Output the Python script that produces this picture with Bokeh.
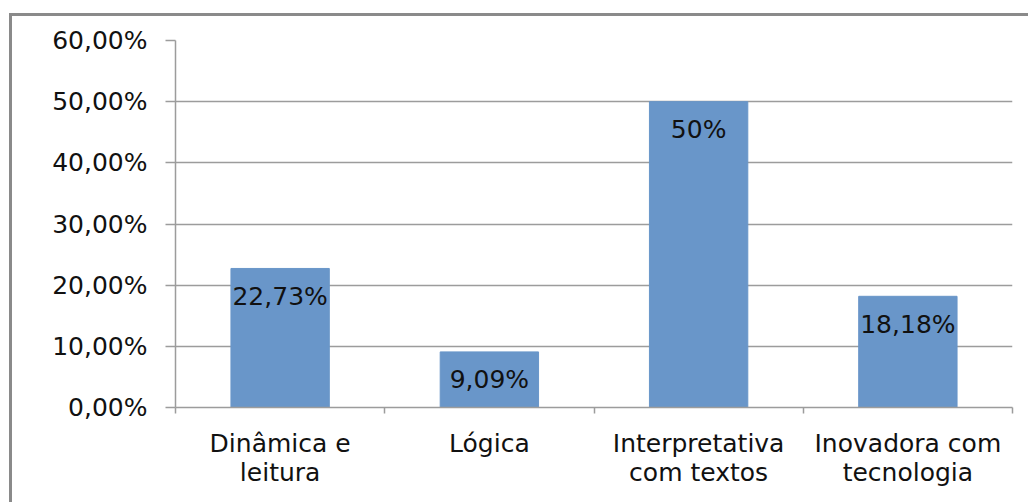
from bokeh.plotting import figure
from bokeh.models import Range1d, FixedTicker, ColumnDataSource, InlineStyleSheet
from bokeh.core.properties import value
from bokeh.embed import file_html
from bokeh.resources import INLINE
import numpy as np

# Data
categories = ["Dinâmica e\nleitura", "Lógica", "Interpretativa\ncom textos", "Inovadora com\ntecnologia"]
percentages = [22.73, 9.09, 50.0, 18.18]
value_labels = ["22,73%", "9,09%", "50%", "18,18%"]
y_ticks = [0, 10, 20, 30, 40, 50, 60]
y_tick_labels = ["0,00%", "10,00%", "20,00%", "30,00%", "40,00%", "50,00%", "60,00%"]

FONT = "DejaVu Sans"
FONT_SIZE = "25px"
GRID = "#9c9c9c"
BAR = "#6996c9"

n = len(categories)
centers = np.arange(n) + 0.5

# Chart-area border, drawn as an overlay on the plot's host element
border_css = InlineStyleSheet(css="""
:host { position: relative; }
:host::after {
  content: "";
  position: absolute;
  left: 9px; top: 13px; right: -20px; bottom: -20px;
  border: 3px solid #8a8a8a;
  pointer-events: none;
}
""")

p = figure(
    width=1028, height=502,
    x_range=Range1d(0, n), y_range=Range1d(0, 60),
    output_backend="svg", toolbar_location=None,
    min_border_left=175, min_border_right=16,
    min_border_top=40, min_border_bottom=95,
    stylesheets=[border_css],
)
p.outline_line_color = None
p.background_fill_color = "white"
p.border_fill_color = "white"

src = ColumnDataSource(dict(x=centers, top=percentages, label=value_labels))
p.vbar(x="x", top="top", width=0.47, bottom=0, source=src,
       fill_color=BAR, line_color=BAR)

p.text(x="x", y="top", text="label", source=src, y_offset=28,
       text_align="center", text_baseline="middle",
       text_font=value(FONT), text_font_size=FONT_SIZE, text_color="#111111")

# Y axis
p.yaxis.ticker = FixedTicker(ticks=y_ticks, minor_ticks=[])
p.yaxis.major_label_overrides = {t: s for t, s in zip(y_ticks, y_tick_labels)}
p.yaxis.major_label_text_font = FONT
p.yaxis.major_label_text_font_size = FONT_SIZE
p.yaxis.major_label_text_color = "#111111"
p.yaxis.major_tick_out = 10
p.yaxis.major_tick_in = 0
p.yaxis.major_label_standoff = 18
p.yaxis.axis_line_color = GRID
p.yaxis.axis_line_width = 1.5
p.yaxis.major_tick_line_color = GRID
p.yaxis.major_tick_line_width = 1.5

# X axis: labels at category centres, ticks on category boundaries
p.xaxis.ticker = FixedTicker(ticks=list(centers), minor_ticks=list(range(n + 1)))
p.xaxis.major_label_overrides = {float(c): lab for c, lab in zip(centers, categories)}
p.xaxis.major_label_text_font = FONT
p.xaxis.major_label_text_font_size = FONT_SIZE
p.xaxis.major_label_text_color = "#111111"
p.xaxis.major_label_text_line_height = 1.0
p.xaxis.major_tick_line_color = None
p.xaxis.major_tick_out = 0
p.xaxis.major_tick_in = 0
p.xaxis.minor_tick_out = 6
p.xaxis.minor_tick_in = 0
p.xaxis.minor_tick_line_color = GRID
p.xaxis.minor_tick_line_width = 1.5
p.xaxis.major_label_standoff = 15
p.xaxis.axis_line_color = GRID
p.xaxis.axis_line_width = 1.5

p.xgrid.grid_line_color = None
p.ygrid.grid_line_color = GRID
p.ygrid.grid_line_width = 1.5

open("out.html", "w").write(file_html(p, INLINE))
